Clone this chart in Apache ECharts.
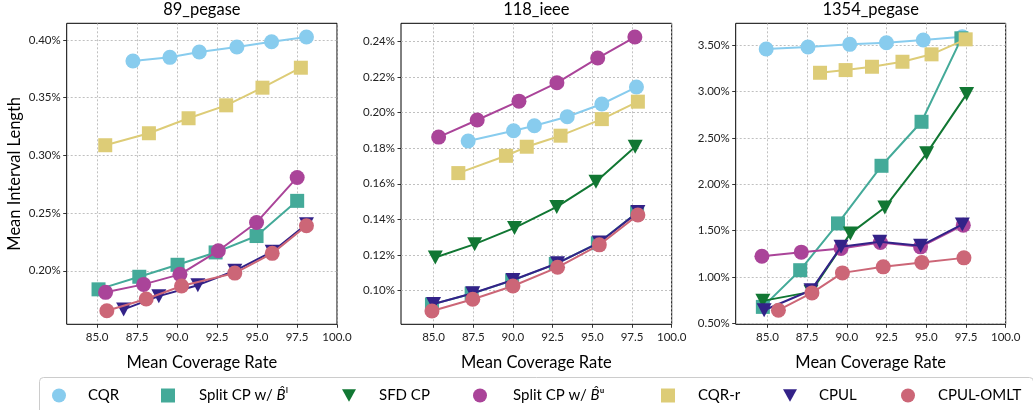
<!DOCTYPE html>
<html><head><meta charset="utf-8">
<script src="https://cdn.jsdelivr.net/npm/echarts@6/dist/echarts.min.js"></script>
<style>html,body{margin:0;padding:0;background:#fff}#c{width:1033px;height:410px}</style>
</head><body><div id="c"></div>
<script>
// ---- data ----
const panelTitles = ['89_pegase', '118_ieee', '1354_pegase'];
const methods = ['CQR', 'Split CP w/ B^l', 'SFD CP', 'Split CP w/ B^u', 'CQR-r', 'CPUL', 'CPUL-OMLT'];
const xTicks = [85, 87.5, 90, 92.5, 95, 97.5, 100];
const yTicks1 = [0.20, 0.25, 0.30, 0.35, 0.40];
const yTicks2 = [0.10, 0.12, 0.14, 0.16, 0.18, 0.20, 0.22, 0.24];
const yTicks3 = [0.5, 1.0, 1.5, 2.0, 2.5, 3.0, 3.5];

// Panel 1: 89_pegase (coverage %, interval length %)
const p1_cqr_x = [87.24, 89.55, 91.39, 93.74, 95.91, 98.09];
const p1_cqr_y = [0.3818, 0.3850, 0.3896, 0.3939, 0.3985, 0.4026];
const p1_splitL_x = [85.09, 87.64, 90.03, 92.41, 94.97, 97.51];
const p1_splitL_y = [0.1839, 0.1948, 0.2052, 0.2159, 0.2301, 0.2606];
const p1_splitU_x = [85.53, 87.91, 90.18, 92.58, 94.97, 97.51];
const p1_splitU_y = [0.1813, 0.1882, 0.1969, 0.2173, 0.2419, 0.2809];
const p1_cqrr_x = [85.51, 88.24, 90.72, 93.07, 95.34, 97.74];
const p1_cqrr_y = [0.3088, 0.3192, 0.3322, 0.3434, 0.3587, 0.3760];
const p1_cpul_x = [86.66, 88.86, 91.30, 93.61, 95.95, 98.09];
const p1_cpul_y = [0.1665, 0.1780, 0.1875, 0.2000, 0.2165, 0.2404];
const p1_omlt_x = [85.61, 88.07, 90.28, 93.61, 95.95, 98.09];
const p1_omlt_y = [0.1654, 0.1755, 0.1868, 0.1980, 0.2151, 0.2390];

// Panel 2: 118_ieee
const p2_cqr_x = [87.18, 90.04, 91.35, 93.42, 95.60, 97.78];
const p2_cqr_y = [0.1840, 0.1898, 0.1926, 0.1976, 0.2048, 0.2143];
const p2_splitL_x = [84.90, 87.40, 89.95, 92.70, 95.35, 97.82];
const p2_splitL_y = [0.0923, 0.0983, 0.1056, 0.1150, 0.1266, 0.1438];
const p2_sfd_x = [85.11, 87.59, 90.10, 92.76, 95.23, 97.70];
const p2_sfd_y = [0.1186, 0.1261, 0.1352, 0.1470, 0.1611, 0.1808];
const p2_splitU_x = [85.32, 87.75, 90.38, 92.77, 95.34, 97.68];
const p2_splitU_y = [0.1862, 0.1958, 0.2064, 0.2167, 0.2306, 0.2424];
const p2_cqrr_x = [86.56, 89.56, 90.87, 93.00, 95.60, 97.87];
const p2_cqrr_y = [0.1660, 0.1757, 0.1808, 0.1870, 0.1963, 0.2061];
const p2_cpul_x = [85.00, 87.47, 90.00, 92.81, 95.44, 97.87];
const p2_cpul_y = [0.0925, 0.0985, 0.1060, 0.1154, 0.1270, 0.1441];
const p2_omlt_x = [84.90, 87.47, 90.00, 92.81, 95.44, 97.87];
const p2_omlt_y = [0.0886, 0.0952, 0.1026, 0.1131, 0.1257, 0.1425];

// Panel 3: 1354_pegase
const p3_cqr_x = [84.92, 87.55, 90.18, 92.49, 94.81, 97.27];
const p3_cqr_y = [3.460, 3.482, 3.511, 3.528, 3.557, 3.593];
const p3_splitL_x = [84.71, 87.06, 89.44, 92.18, 94.70, 97.21];
const p3_splitL_y = [0.677, 1.073, 1.578, 2.200, 2.675, 3.576];
const p3_sfd_x = [84.71, 87.74, 90.22, 92.39, 95.02, 97.54];
const p3_sfd_y = [0.742, 0.839, 1.470, 1.750, 2.334, 2.974];
const p3_splitU_x = [84.65, 87.13, 89.63, 92.11, 94.64, 97.33];
const p3_splitU_y = [1.224, 1.268, 1.308, 1.372, 1.325, 1.559];
const p3_cqrr_x = [88.31, 89.92, 91.58, 93.50, 95.33, 97.48];
const p3_cqrr_y = [3.204, 3.233, 3.269, 3.323, 3.403, 3.565];
const p3_cpul_x = [84.79, 87.74, 89.63, 92.07, 94.64, 97.27];
const p3_cpul_y = [0.641, 0.857, 1.325, 1.379, 1.336, 1.567];
const p3_omlt_x = [85.69, 87.80, 89.72, 92.29, 94.72, 97.37];
const p3_omlt_y = [0.641, 0.828, 1.044, 1.109, 1.156, 1.206];

// ---- assembly ----
const panelData = [
  [[p1_cqr_x, p1_cqr_y], [p1_splitL_x, p1_splitL_y], null, [p1_splitU_x, p1_splitU_y], [p1_cqrr_x, p1_cqrr_y], [p1_cpul_x, p1_cpul_y], [p1_omlt_x, p1_omlt_y]],
  [[p2_cqr_x, p2_cqr_y], [p2_splitL_x, p2_splitL_y], [p2_sfd_x, p2_sfd_y], [p2_splitU_x, p2_splitU_y], [p2_cqrr_x, p2_cqrr_y], [p2_cpul_x, p2_cpul_y], [p2_omlt_x, p2_omlt_y]],
  [[p3_cqr_x, p3_cqr_y], [p3_splitL_x, p3_splitL_y], [p3_sfd_x, p3_sfd_y], [p3_splitU_x, p3_splitU_y], [p3_cqrr_x, p3_cqrr_y], [p3_cpul_x, p3_cpul_y], [p3_omlt_x, p3_omlt_y]]
];
const yTicksAll = [yTicks1, yTicks2, yTicks3];

const colors = ['#88CCEE', '#44AA99', '#117733', '#AA4499', '#DDCC77', '#332288', '#CC6677'];
const triPath = 'path://M0,0 L10,0 L5,9 Z';
const symbols = ['circle', 'rect', triPath, 'circle', 'rect', triPath, 'circle'];
const symSizes = [15, 14, [15, 14], 15, 14, [15, 14], 15];
const FONT = 'Lato';

const gridLeft = [66.7, 401, 735.7];
const gridWidth = [270.3, 270.7, 270];
const yRange = [[0.1536, 0.4145], [0.0811, 0.2501], [0.489, 3.738]];
const xRange = [[83.1, 100], [82.95, 100], [83.0, 100]];

const grids = [], xAxes = [], yAxes = [], titles = [], series = [];
for (let p = 0; p < 3; p++) {
  grids.push({left: gridLeft[p], top: 23.3, width: gridWidth[p], height: 301,
    show: true, borderColor: '#000', borderWidth: 1, backgroundColor: 'transparent', containLabel: false});
  titles.push({text: panelTitles[p], left: gridLeft[p] + gridWidth[p] / 2, top: 1, textAlign: 'center', padding: 0,
    textStyle: {fontFamily: FONT, fontSize: 16.5, fontWeight: 'normal', color: '#000'}});
  xAxes.push({type: 'value', gridIndex: p, min: xRange[p][0], max: xRange[p][1],
    name: 'Mean Coverage Rate', nameLocation: 'middle', nameGap: 30,
    nameTextStyle: {fontFamily: FONT, fontSize: 16.5, color: '#000'},
    axisLine: {show: false},
    axisTick: {show: true, length: 3.5, lineStyle: {color: '#000', width: 0.8}, customValues: xTicks},
    axisLabel: {fontFamily: FONT, fontSize: 11.5, color: '#222', margin: 7, customValues: xTicks,
      formatter: v => Number(v).toFixed(1), showMinLabel: true, showMaxLabel: true},
    splitLine: {show: true, lineStyle: {color: '#b0b0b0', width: 0.8, type: [2, 2]}}
  });
  yAxes.push({type: 'value', gridIndex: p, min: yRange[p][0], max: yRange[p][1],
    name: p === 0 ? 'Mean Interval Length' : '', nameLocation: 'middle', nameGap: 44,
    nameTextStyle: {fontFamily: FONT, fontSize: 16.5, color: '#000'},
    axisLine: {show: false},
    axisTick: {show: true, length: 3.5, lineStyle: {color: '#000', width: 0.8}, customValues: yTicksAll[p]},
    axisLabel: {fontFamily: FONT, fontSize: 11.5, color: '#222', margin: 6, customValues: yTicksAll[p],
      formatter: v => Number(v).toFixed(2) + '%'},
    splitLine: {show: true, lineStyle: {color: '#b0b0b0', width: 0.8, type: [2, 2]}}
  });
  for (let m = 0; m < methods.length; m++) {
    const d = panelData[p][m];
    if (!d) continue;
    series.push({
      type: 'line', name: methods[m], xAxisIndex: p, yAxisIndex: p,
      data: d[0].map((x, i) => [x, d[1][i]]),
      symbol: symbols[m], symbolSize: symSizes[m], showSymbol: true,
      itemStyle: {color: colors[m], opacity: 1},
      lineStyle: {color: colors[m], width: 2},
      z: 2 + m, emphasis: {disabled: true}, silent: true
    });
  }
}

// legend: one component per entry
const legIconX = [59, 168, 349, 480, 668, 790, 908];
const legTextX = [88, 199, 379, 513, 698, 819, 938];
const legendIcons = ['circle', 'rect', triPath, 'circle', 'rect', triPath, 'circle'];
const legends = methods.map((name, i) => ({
  left: legIconX[i] - 7, top: 388, itemWidth: 14, itemHeight: 14, itemGap: 0, padding: 0,
  selectedMode: false, orient: 'horizontal',
  data: [{name: name, icon: legendIcons[i], itemStyle: {color: colors[i]}}],
  formatter: n => {
    if (n === 'Split CP w/ B^l') return '{n|Split CP w/ }{i|B\u0302}{n|\u02E1}';
    if (n === 'Split CP w/ B^u') return '{n|Split CP w/ }{i|B\u0302}{n|\u1D58}';
    return '{n|' + n + '}';
  },
  textStyle: {
    padding: [0, 0, 0, legTextX[i] - (legIconX[i] + 12)],
    rich: {
      n: {fontFamily: FONT, fontSize: 15, color: '#000', lineHeight: 20},
      i: {fontFamily: FONT, fontSize: 15, fontStyle: 'italic', color: '#000', lineHeight: 20}
    }
  }
}));

const chart = echarts.init(document.getElementById('c'), null, {renderer: 'canvas'});
chart.setOption({
  animation: false,
  backgroundColor: '#fff',
  title: titles,
  grid: grids, xAxis: xAxes, yAxis: yAxes,
  legend: legends,
  graphic: [{type: 'rect', left: 37, top: 375, shape: {width: 994, height: 50, r: 4},
    style: {fill: 'none', stroke: '#cccccc', lineWidth: 1}, silent: true, z: -1}],
  series: series
});
</script></body></html>
